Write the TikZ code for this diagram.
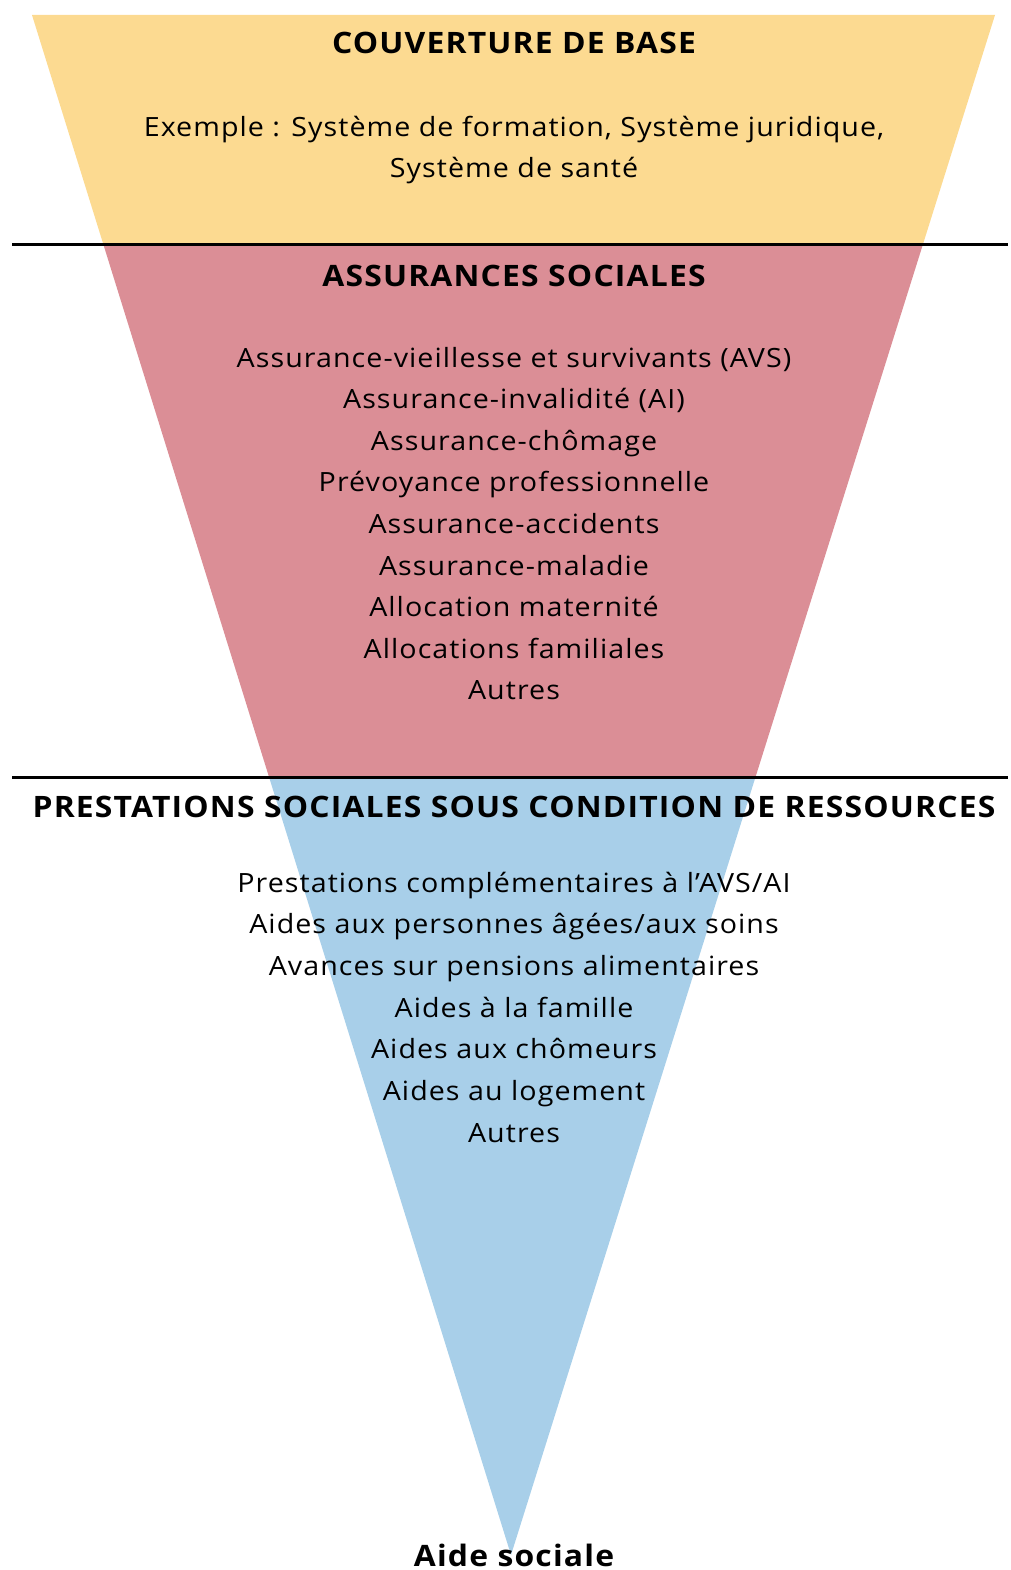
\documentclass[tikz,border=0pt]{standalone}
\usepackage{fontspec}
\setmainfont{Open Sans}[FakeStretch=1.08,LetterSpace=4]
\usetikzlibrary{calc}
\definecolor{cyel}{HTML}{FCDA91}
\definecolor{cred}{HTML}{DB8E96}
\definecolor{cblue}{HTML}{A8CFE9}
\begin{document}
\begin{tikzpicture}[x=1pt,y=-1pt,
 head/.style={anchor=base,inner sep=0pt,font=\fontsize{29.5}{29.5}\selectfont\bfseries},
 body/.style={anchor=base,inner sep=0pt,font=\fontsize{26.5}{26.5}\selectfont}]
\useasboundingbox (0,0) rectangle (1010,1570);
\coordinate (TL) at (32,15);
\coordinate (TR) at (995,15);
\coordinate (AP) at (511,1555);
\coordinate (L1) at ($(TL)!0.14935!(AP)$);
\coordinate (R1) at ($(TR)!0.14935!(AP)$);
\coordinate (L2) at ($(TL)!0.49481!(AP)$);
\coordinate (R2) at ($(TR)!0.49481!(AP)$);
\fill[cyel] (TL) -- (TR) -- (R1) -- (L1) -- cycle;
\fill[cred] (L1) -- (R1) -- (R2) -- (L2) -- cycle;
\fill[cblue] (L2) -- (R2) -- (AP) -- cycle;
\coordinate (s1a) at (12,245);
\coordinate (s1b) at (1008,245);
\coordinate (s2a) at (12,777);
\coordinate (s2b) at (1008,777);
\draw[line width=3pt] (s1a) -- (s1b);
\draw[line width=3pt] (s2a) -- (s2b);
\node[head] (h1) at (514,54) {COUVERTURE DE BASE};
\node[body] (e1) at (514,137) {Exemple : Système de formation, Système juridique,};
\node[body] (e2) at (514,178) {Système de santé};
\node[head] (h2) at (514,286) {ASSURANCES SOCIALES};
\foreach \t [count=\i from 0] in {Assurance-vieillesse et survivants (AVS),Assurance-invalidité (AI),Assurance-chômage,Prévoyance professionnelle,Assurance-accidents,Assurance-maladie,Allocation maternité,Allocations familiales,Autres}
  \node[body] (a\i) at (514,367+41.6*\i) {\t};
\node[head] (h3) at (514,817) {PRESTATIONS SOCIALES SOUS CONDITION DE RESSOURCES};
\foreach \t [count=\i from 0] in {Prestations complémentaires à l’AVS/AI,Aides aux personnes âgées/aux soins,Avances sur pensions alimentaires,Aides à la famille,Aides aux chômeurs,Aides au logement,Autres}
  \node[body] (p\i) at (514,892+41.67*\i) {\t};
\node[head] (h4) at (514,1566) {Aide sociale};
\end{tikzpicture}
\end{document}
